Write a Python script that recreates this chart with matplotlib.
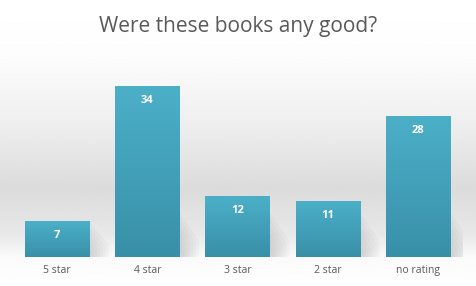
import numpy as np
import matplotlib
matplotlib.use("Agg")
import matplotlib.pyplot as plt
from matplotlib.colors import LinearSegmentedColormap
from matplotlib.patches import Polygon

categorias = ["5 star", "4 star", "3 star", "2 star", "no rating"]
valores = [7, 34, 12, 11, 28]

plt.rcParams['font.family'] = ['Open Sans', 'DejaVu Sans']

fig = plt.figure(figsize=(4.77, 2.86), dpi=100)

# fundo com degradê vertical
fundo = fig.add_axes([0, 0, 1, 1], zorder=0)
fundo.set_axis_off()
pos = np.array([0.0, 0.2, 0.45, 0.66, 0.82, 0.9, 1.0])
cinza = np.array([1.0, 0.99, 0.93, 0.86, 0.91, 0.98, 1.0])
yy = np.linspace(0, 1, 300)
grad = np.interp(yy, pos, cinza)
img = np.repeat(grad[:, None], 2, axis=1)
fundo.imshow(img, aspect="auto", cmap="gray", vmin=0, vmax=1,
             extent=[0, 1, 1, 0])

ax = fig.add_axes([12 / 477, 29 / 286, 451 / 477, 201 / 286], zorder=1)
ax.patch.set_alpha(0)

x = np.arange(len(categorias))
largura = 0.71

cmap_barra = LinearSegmentedColormap.from_list("barra", ["#3890a8", "#4cafc8"])

for i, v in zip(x, valores):
    dx = largura / 2
    # sombra suave em camadas
    h = min(v, 9)
    for k in range(6):
        f = 1 - k * 0.15
        sombra = Polygon([(i + dx, 0), (i + dx, h * f), (i + dx + 0.22 * f, 0.35 * h * f),
                          (i + dx + 0.22 * f, 0)], closed=True, color="#000000",
                         alpha=0.025, lw=0, zorder=1)
        ax.add_patch(sombra)
    grad_barra = np.linspace(0, 1, 100)[:, None]
    ax.imshow(grad_barra, cmap=cmap_barra, aspect="auto", origin="lower",
              extent=[i - dx, i + dx, 0, v], zorder=2)
    ax.text(i, v - 2.8, str(v), ha="center", va="center", color="white",
            fontsize=8, fontweight="bold", zorder=3)

ax.set_xlim(-0.5, len(categorias) - 0.5)
ax.set_ylim(0, 40)
ax.set_xticks(x)
ax.set_xticklabels(categorias, fontsize=7.5, color="#595959")
ax.set_yticks([])
ax.tick_params(axis="x", length=0, pad=6)
for s in ax.spines.values():
    s.set_visible(False)

fig.text(0.5, 0.906, "Were these books any good?", ha="center", va="center",
         fontsize=15, color="#595959")

fig.savefig("out.png", dpi=100)
